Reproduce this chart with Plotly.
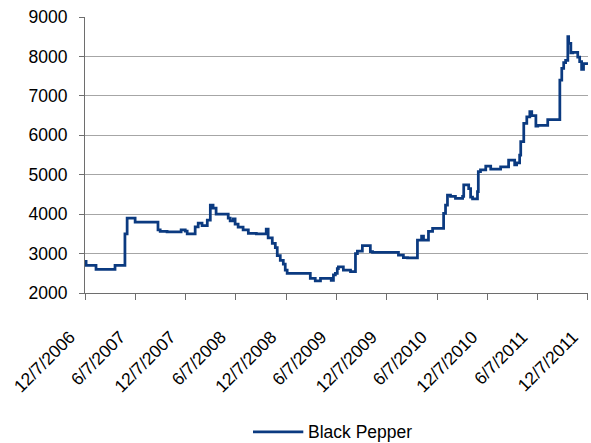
import plotly.graph_objects as go

# Black pepper price series: dates where the quoted price changes, and the price from that date
dates = [
    "2006-12-07", "2006-12-11", "2007-01-16", "2007-03-26", "2007-05-01", "2007-05-09",
    "2007-06-07", "2007-08-29", "2007-09-06", "2007-10-01", "2007-11-21", "2007-12-06",
    "2007-12-13", "2008-01-11", "2008-01-22", "2008-02-05", "2008-02-24", "2008-03-06",
    "2008-03-16", "2008-03-27", "2008-05-10", "2008-05-17", "2008-05-28", "2008-06-04",
    "2008-06-15", "2008-07-03", "2008-07-22", "2008-08-20", "2008-09-25", "2008-10-02",
    "2008-10-17", "2008-10-28", "2008-11-04", "2008-11-15", "2008-11-26", "2008-12-03",
    "2008-12-10", "2009-03-04", "2009-03-22", "2009-04-10", "2009-05-19", "2009-05-27",
    "2009-06-03", "2009-06-10", "2009-06-14", "2009-07-02", "2009-07-28", "2009-08-15",
    "2009-08-22", "2009-09-09", "2009-10-08", "2009-10-16", "2010-01-18", "2010-02-05",
    "2010-02-20", "2010-03-28", "2010-04-12", "2010-04-19", "2010-05-07", "2010-05-22",
    "2010-07-01", "2010-07-08", "2010-07-15", "2010-07-26", "2010-08-13", "2010-09-08",
    "2010-09-12", "2010-09-30", "2010-10-07", "2010-10-14", "2010-11-01", "2010-11-04",
    "2010-11-12", "2010-12-01", "2010-12-19", "2011-01-24", "2011-02-22", "2011-03-16",
    "2011-03-23", "2011-04-03", "2011-04-07", "2011-04-18", "2011-04-29", "2011-05-10",
    "2011-05-17", "2011-06-01", "2011-06-08", "2011-07-14", "2011-08-27", "2011-09-03",
    "2011-09-10", "2011-09-17", "2011-09-25", "2011-09-28", "2011-10-06", "2011-10-13",
    "2011-10-31", "2011-11-07", "2011-11-14", "2011-11-21", "2011-12-07",
]
prices = [
    2800, 2700, 2600, 2700, 3500, 3900,
    3800, 3600, 3560, 3550, 3600, 3570,
    3500, 3680, 3770, 3710, 3850, 4230,
    4150, 4000, 3900, 3830, 3880, 3750,
    3670, 3600, 3510, 3500, 3620, 3400,
    3260, 3150, 2950, 2830, 2730, 2580,
    2500, 2370, 2310, 2370, 2320, 2460,
    2500, 2620, 2660, 2580, 2540, 3000,
    3060, 3200, 3050, 3030, 2960, 2900,
    2890, 3340, 3440, 3340, 3560, 3640,
    4020, 4230, 4480, 4450, 4400, 4450,
    4740, 4650, 4430, 4390, 4570, 5080,
    5120, 5220, 5140, 5200, 5370, 5250,
    5300, 5500, 5840, 6300, 6470, 6600,
    6500, 6230, 6250, 6400, 7400, 7700,
    7840, 7900, 8500, 8330, 8090, 8100,
    7980, 7870, 7670, 7820, 7800,
]

tick_dates = [
    "2006-12-07", "2007-06-07", "2007-12-07", "2008-06-07", "2008-12-07", "2009-06-07",
    "2009-12-07", "2010-06-07", "2010-12-07", "2011-06-07", "2011-12-07",
]
tick_labels = [
    "12/7/2006", "6/7/2007", "12/7/2007", "6/7/2008", "12/7/2008", "6/7/2009",
    "12/7/2009", "6/7/2010", "12/7/2010", "6/7/2011", "12/7/2011",
]
y_ticks = [2000, 3000, 4000, 5000, 6000, 7000, 8000, 9000]

FONT = "Liberation Sans, Arial, sans-serif"
LINE_COLOR = "#0b3a80"
AXIS_COLOR = "#6e6e6e"

fig = go.Figure()
fig.add_trace(go.Scatter(
    x=dates,
    y=prices,
    mode="lines",
    line=dict(color=LINE_COLOR, width=2.75, shape="hv"),
    name="Black Pepper",
    showlegend=False,
))

# Legend key drawn as a line sample plus label below the plot
fig.add_shape(
    type="line", xref="paper", yref="paper",
    x0=0.334, x1=0.434, y0=-0.5036, y1=-0.5036,
    line=dict(color=LINE_COLOR, width=2.75),
)
fig.add_annotation(
    text="Black Pepper", xref="paper", yref="paper",
    x=0.4394, y=-0.5036, xanchor="left", yanchor="middle",
    showarrow=False, font=dict(family=FONT, size=17.5, color="#000000"),
)

fig.update_layout(
    width=591,
    height=443,
    margin=dict(l=85, r=3, t=17, b=150),
    paper_bgcolor="white",
    plot_bgcolor="white",
    font=dict(family=FONT, size=17.5, color="#000000"),
    xaxis=dict(
        type="date",
        range=["2006-12-07", "2011-12-07 06:00"],
        tickmode="array",
        tickvals=tick_dates,
        ticktext=tick_labels,
        tickangle=-45,
        ticks="outside",
        ticklen=6,
        tickcolor=AXIS_COLOR,
        ticklabelshift=-15,
        ticklabelstandoff=20,
        showline=True,
        linecolor=AXIS_COLOR,
        linewidth=1,
        showgrid=False,
        zeroline=False,
    ),
    yaxis=dict(
        range=[2000, 9000],
        tickmode="array",
        tickvals=y_ticks,
        ticks="outside",
        ticklen=5,
        tickcolor=AXIS_COLOR,
        showline=True,
        linecolor=AXIS_COLOR,
        linewidth=1,
        showgrid=True,
        gridcolor="#a6a6a6",
        gridwidth=1,
        zeroline=False,
        ticklabelstandoff=8,
    ),
)

fig.write_html("out.html")
